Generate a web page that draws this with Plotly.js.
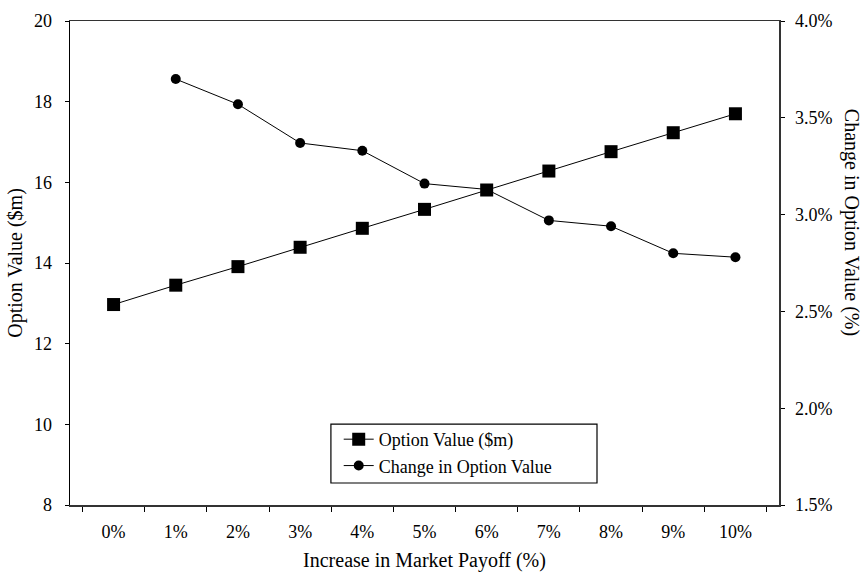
<!DOCTYPE html>
<html>
<head>
<meta charset="utf-8">
<script src="https://cdn.plot.ly/plotly-3.0.1.min.js"></script>
<style>html,body{margin:0;padding:0;background:#fff;}#chart{width:867px;height:574px;}</style>
</head>
<body>
<div id="chart"></div>
<script>
const categories = ["0%","1%","2%","3%","4%","5%","6%","7%","8%","9%","10%"];
const optionValue = [12.97, 13.45, 13.91, 14.39, 14.86, 15.33, 15.81, 16.28, 16.76, 17.23, 17.70];
const changeInValue = [null, 3.70, 3.57, 3.37, 3.33, 3.16, 3.13, 2.97, 2.94, 2.80, 2.78];
const leftTicks = [8, 10, 12, 14, 16, 18, 20];
const rightTicks = [1.5, 2.0, 2.5, 3.0, 3.5, 4.0];
const rightTickLabels = ["1.5%", "2.0%", "2.5%", "3.0%", "3.5%", "4.0%"];

const fontFam = "Liberation Serif";
const traces = [
  {
    x: categories, y: optionValue, name: "Option Value ($m)",
    type: "scatter", mode: "lines+markers",
    line: {color: "#000", width: 1},
    marker: {symbol: "square", size: 13, color: "#000"},
    yaxis: "y"
  },
  {
    x: categories, y: changeInValue, name: "Change in Option Value",
    type: "scatter", mode: "lines+markers",
    line: {color: "#000", width: 1},
    marker: {symbol: "circle", size: 10, color: "#000"},
    yaxis: "y2", connectgaps: false
  }
];
const layout = {
  width: 867, height: 574,
  margin: {l: 70, r: 88, t: 21, b: 69},
  paper_bgcolor: "#fff", plot_bgcolor: "#fff",
  font: {family: fontFam, size: 18, color: "#000"},
  showlegend: true,
  legend: {
    x: 0.379, y: 0.1736, xanchor: "left", yanchor: "top",
    borderwidth: 0, bgcolor: "rgba(0,0,0,0)",
    font: {family: fontFam, size: 18, color: "#000"},
    tracegroupgap: 0, itemwidth: 30
  },
  shapes: [{
    type: "rect", xref: "paper", yref: "paper",
    x0: 0.368, x1: 0.7433, y0: 0.0455, y1: 0.1672,
    line: {color: "#000", width: 1.2}, fillcolor: "rgba(0,0,0,0)", layer: "above"
  }],
  xaxis: {
    type: "category",
    title: {text: "Increase in Market Payoff (%)", font: {family: fontFam, size: 20}, standoff: 12},
    showline: true, linecolor: "#333", linewidth: 1.5, mirror: true,
    ticks: "outside", ticklen: 5, tickcolor: "#000", tickson: "boundaries",
    showgrid: false, zeroline: false, ticklabelstandoff: 10,
    tickfont: {family: fontFam, size: 18}
  },
  yaxis: {
    range: [8, 20], tickvals: leftTicks,
    title: {text: "Option Value ($m)", font: {family: fontFam, size: 20}, standoff: 6},
    showline: true, linecolor: "#000", linewidth: 1.5,
    ticks: "outside", ticklen: 4, tickcolor: "#000",
    showgrid: false, zeroline: false, ticklabelstandoff: 9,
    tickfont: {family: fontFam, size: 18}
  },
  yaxis2: {
    range: [1.5, 4.0], tickvals: rightTicks, ticktext: rightTickLabels,
    overlaying: "y", side: "right",
    showline: true, linecolor: "#333", linewidth: 1.5,
    ticks: "outside", ticklen: 4, tickcolor: "#000",
    showgrid: false, zeroline: false, ticklabelstandoff: 7,
    tickfont: {family: fontFam, size: 18}
  },
  annotations: [{
    text: "Change in Option Value (%)", textangle: 90,
    xref: "paper", yref: "paper", x: 1.1016, y: 0.585,
    xanchor: "center", yanchor: "middle", showarrow: false,
    font: {family: fontFam, size: 20, color: "#000"}
  }]
};
Plotly.newPlot("chart", traces, layout, {displayModeBar: false, staticPlot: true});
</script>
</body>
</html>
